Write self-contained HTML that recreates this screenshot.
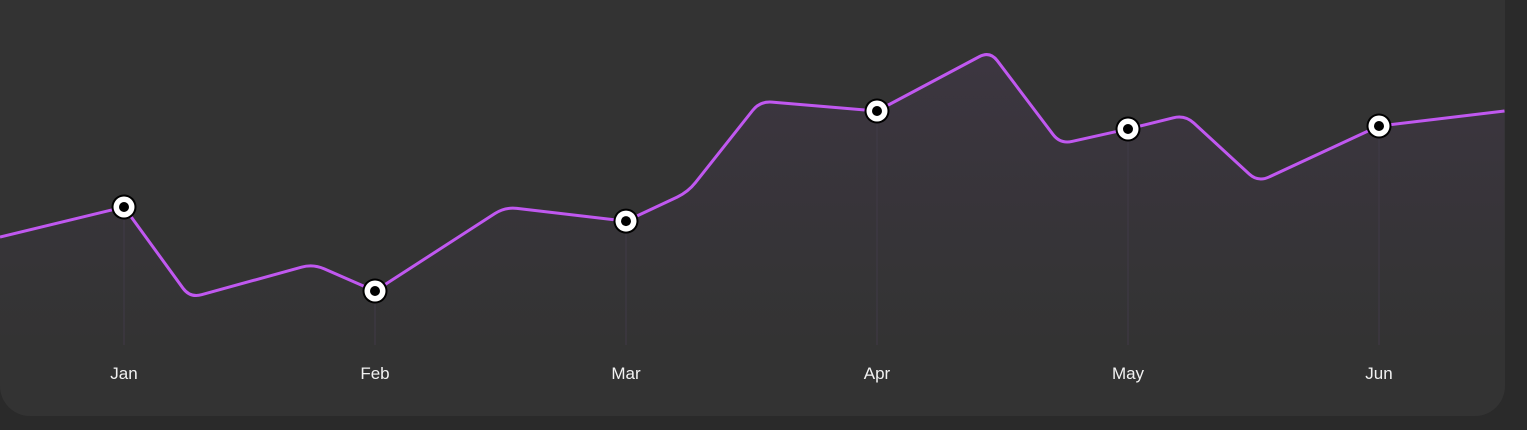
<!DOCTYPE html>
<html><head><meta charset="utf-8"><style>
html,body{margin:0;padding:0;background:#2a2a2a;width:1527px;height:430px;overflow:hidden}
#card{position:absolute;left:0;top:-40px;width:1505px;height:456px;background:#333333;border-radius:0 0 30px 30px}
svg{position:absolute;left:0;top:0}
text{font-family:"Liberation Sans",sans-serif;font-size:17px;fill:#f2f2f2}
</style></head><body>
<div id="card"></div>
<svg id="chart" width="1527" height="430">
<defs>
<linearGradient id="ag" x1="0" y1="0" x2="0" y2="1">
<stop offset="0" stop-color="#b45cf0" stop-opacity="0.07"/>
<stop offset="1" stop-color="#b45cf0" stop-opacity="0"/>
</linearGradient>
</defs>
</svg>
<script>
const months=["Jan","Feb","Mar","Apr","May","Jun"];
const monthValues=[51,23,46.3,83,77,78];
const curveIdx=[-0.494,0,0.263,0.753,1,1.518,2,2.247,2.534,3,3.45,3.73,4,4.227,4.518,5,5.5];
const curveVals=[41,51,20.7,32,23,51,46.3,56,86.3,83,103,72,77,81.7,59.3,78,83];
const X=i=>124+i*251;
const Y=v=>360-v*3;
const NS="http://www.w3.org/2000/svg";
const svg=document.getElementById('chart');
const pts=curveIdx.map((c,k)=>[X(c),Y(curveVals[k])]);
function rounded(p,r){
  let d=`M${p[0][0]},${p[0][1]}`;
  for(let i=1;i<p.length-1;i++){
    const a=p[i-1],b=p[i],c=p[i+1];
    const l1=Math.hypot(b[0]-a[0],b[1]-a[1]),l2=Math.hypot(c[0]-b[0],c[1]-b[1]);
    const rr=Math.min(r,l1/2,l2/2);
    const s=[b[0]-(b[0]-a[0])*rr/l1,b[1]-(b[1]-a[1])*rr/l1];
    const e=[b[0]+(c[0]-b[0])*rr/l2,b[1]+(c[1]-b[1])*rr/l2];
    d+=` L${s[0]},${s[1]} Q${b[0]},${b[1]} ${e[0]},${e[1]}`;
  }
  const l=p[p.length-1];d+=` L${l[0]},${l[1]}`;return d;
}
const lineD=rounded(pts,12);
const area=document.createElementNS(NS,'path');
area.setAttribute('d',lineD+` L${pts[pts.length-1][0]},345 L${pts[0][0]},345 Z`);
area.setAttribute('fill','url(#ag)');


svg.appendChild(area);
months.forEach((m,i)=>{
  const x=X(i),y=Y(monthValues[i]);
  const ln=document.createElementNS(NS,'line');
  ln.setAttribute('x1',x);ln.setAttribute('x2',x);ln.setAttribute('y1',y);ln.setAttribute('y2',345);
  ln.setAttribute('stroke','#403a47');ln.setAttribute('stroke-width','1');
  
  
  svg.appendChild(ln);
  const t=document.createElementNS(NS,'text');
  t.setAttribute('x',x);t.setAttribute('y',379);t.setAttribute('text-anchor','middle');
  t.textContent=m;
  
  
  svg.appendChild(t);
});
const line=document.createElementNS(NS,'path');
line.setAttribute('d',lineD);line.setAttribute('fill','none');
line.setAttribute('stroke','#c058f0');line.setAttribute('stroke-width','3');


svg.appendChild(line);
months.forEach((m,i)=>{
  const x=X(i),y=Y(monthValues[i]);
  const g=document.createElementNS(NS,'g');
  
  
  [[12.5,'#000'],[10.5,'#fff'],[5,'#000']].forEach(([r,f])=>{
    const c=document.createElementNS(NS,'circle');
    c.setAttribute('cx',x);c.setAttribute('cy',y);c.setAttribute('r',r);c.setAttribute('fill',f);
    g.appendChild(c);
  });
  svg.appendChild(g);
});
</script>
</body></html>
